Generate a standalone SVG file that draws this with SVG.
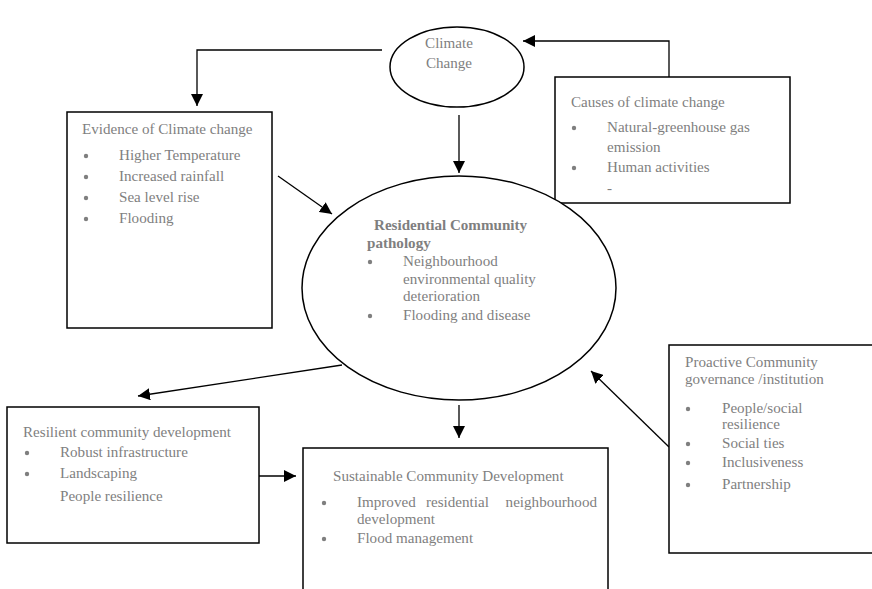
<svg xmlns="http://www.w3.org/2000/svg" width="872" height="589" viewBox="0 0 872 589">
<defs>
<style>
.box{fill:#fff;stroke:#000;stroke-width:1.5}
.t{font-family:"Liberation Serif","Times New Roman",serif;font-size:15.1px;fill:#7f7f7f}
.b{font-weight:bold}
.bul{fill:#7f7f7f}
.c{fill:none;stroke:#000;stroke-width:1.3}
</style>
<marker id="a" viewBox="0 0 12 12" refX="12" refY="6" markerWidth="12" markerHeight="12" orient="auto" markerUnits="userSpaceOnUse">
<path d="M0,0 L12,6 L0,12 z" fill="#000"/>
</marker>
</defs>
<rect width="872" height="589" fill="#fff"/>

<g id="connectors">
<path class="c" d="M382,50 H197 V106" marker-end="url(#a)"/>
<path class="c" d="M669,77 V41 H523" marker-end="url(#a)"/>
<path class="c" d="M459,115 V173" marker-end="url(#a)"/>
<path class="c" d="M278,176 L332,214" marker-end="url(#a)"/>
<path class="c" d="M342,365 L138,396" marker-end="url(#a)"/>
<path class="c" d="M259,476 H296" marker-end="url(#a)"/>
<path class="c" d="M459,405 V438" marker-end="url(#a)"/>
<path class="c" d="M669,447 L591,371" marker-end="url(#a)"/>
</g>

<g id="climate-change">
<ellipse class="box" cx="457" cy="67" rx="67" ry="40"/>
<text class="t" x="449" y="48" text-anchor="middle">Climate</text>
<text class="t" x="449" y="68" text-anchor="middle">Change</text>
</g>

<g id="causes">
<rect class="box" x="555" y="77" width="235" height="126"/>
<text class="t" x="571" y="107">Causes of climate change</text>
<circle class="bul" cx="574" cy="128" r="2.2"/>
<text class="t" x="607" y="132">Natural-greenhouse gas</text>
<text class="t" x="607" y="152">emission</text>
<circle class="bul" cx="574" cy="168" r="2.2"/>
<text class="t" x="607" y="172">Human activities</text>
<text class="t" x="607" y="193">-</text>
</g>

<g id="evidence">
<rect class="box" x="67" y="112" width="205" height="216"/>
<text class="t" x="82" y="134">Evidence of Climate change</text>
<circle class="bul" cx="86" cy="156" r="2.2"/>
<text class="t" x="119" y="160">Higher Temperature</text>
<circle class="bul" cx="86" cy="177" r="2.2"/>
<text class="t" x="119" y="181">Increased rainfall</text>
<circle class="bul" cx="86" cy="198" r="2.2"/>
<text class="t" x="119" y="202">Sea level rise</text>
<circle class="bul" cx="86" cy="219" r="2.2"/>
<text class="t" x="119" y="223">Flooding</text>
</g>

<g id="pathology">
<ellipse class="box" cx="459" cy="288" rx="157" ry="112"/>
<text class="t b" x="374" y="230">Residential Community</text>
<text class="t b" x="367" y="248">pathology</text>
<circle class="bul" cx="370" cy="262" r="2.2"/>
<text class="t" x="403" y="266">Neighbourhood</text>
<text class="t" x="403" y="284">environmental quality</text>
<text class="t" x="403" y="301">deterioration</text>
<circle class="bul" cx="370" cy="316" r="2.2"/>
<text class="t" x="403" y="320">Flooding and disease</text>
</g>

<g id="resilient">
<rect class="box" x="7" y="407" width="252" height="136"/>
<text class="t" x="23" y="437">Resilient community development</text>
<circle class="bul" cx="27" cy="453" r="2.2"/>
<text class="t" x="60" y="457">Robust infrastructure</text>
<circle class="bul" cx="27" cy="474" r="2.2"/>
<text class="t" x="60" y="478">Landscaping</text>
<text class="t" x="60" y="501">People resilience</text>
</g>

<g id="sustainable">
<rect class="box" x="303" y="448" width="305" height="150"/>
<text class="t" x="333" y="481">Sustainable Community Development</text>
<circle class="bul" cx="324" cy="503" r="2.2"/>
<text class="t" x="357" y="507">Improved</text>
<text class="t" x="426" y="507">residential</text>
<text class="t" x="597" y="507" text-anchor="end">neighbourhood</text>
<text class="t" x="357" y="524">development</text>
<circle class="bul" cx="324" cy="539" r="2.2"/>
<text class="t" x="357" y="543">Flood management</text>
</g>

<g id="proactive">
<rect class="box" x="669" y="345" width="210" height="208"/>
<text class="t" x="685" y="367">Proactive Community</text>
<text class="t" x="685" y="384">governance /institution</text>
<circle class="bul" cx="688" cy="409" r="2.2"/>
<text class="t" x="722" y="413">People/social</text>
<text class="t" x="722" y="429">resilience</text>
<circle class="bul" cx="688" cy="444" r="2.2"/>
<text class="t" x="722" y="448">Social ties</text>
<circle class="bul" cx="688" cy="463" r="2.2"/>
<text class="t" x="722" y="467">Inclusiveness</text>
<circle class="bul" cx="688" cy="485" r="2.2"/>
<text class="t" x="722" y="489">Partnership</text>
</g>
</svg>
